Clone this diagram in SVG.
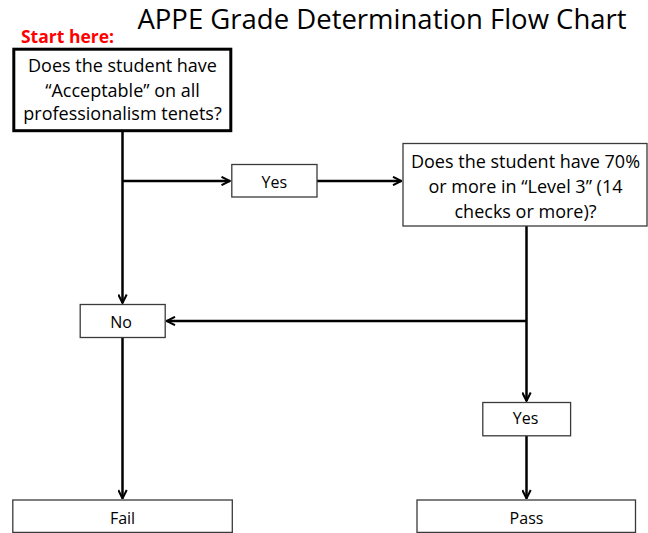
<svg xmlns="http://www.w3.org/2000/svg" width="648" height="533" viewBox="0 0 648 533">
<style>
text{font-family:"Open Sans","Liberation Sans",sans-serif;fill:#000;text-anchor:middle}
.box{fill:#fff;stroke:#3a3a3a;stroke-width:1.3}
.thick{fill:#fff;stroke:#000;stroke-width:3}
.q{font-size:18px}
.lbl{font-size:16px}
.conn{fill:none;stroke:#000;stroke-width:2.5}
</style>
<defs>
<marker id="arr" markerUnits="userSpaceOnUse" viewBox="0 0 10 10" refX="9.5" refY="5" markerWidth="10" markerHeight="10" orient="auto">
<path d="M1,0.8 L9.5,5 L1,9.2" fill="none" stroke="#000" stroke-width="2"/>
</marker>
</defs>
<rect width="648" height="533" fill="#fff"/>
<g id="title"><text x="382" y="29" style="font-size:27.5px">APPE Grade Determination Flow Chart</text></g>
<g id="start-label"><text x="67.5" y="42.5" style="font-size:17.5px;font-weight:bold;fill:#f00">Start here:</text></g>
<g id="connectors">
<path class="conn" d="M122.5,132 V303" marker-end="url(#arr)"/>
<path class="conn" d="M122.5,181 H230" marker-end="url(#arr)"/>
<path class="conn" d="M317,181 H401.5" marker-end="url(#arr)"/>
<path class="conn" d="M526.5,226 V401" marker-end="url(#arr)"/>
<path class="conn" d="M526.5,321 H166.5" marker-end="url(#arr)"/>
<path class="conn" d="M122.5,338 V498.5" marker-end="url(#arr)"/>
<path class="conn" d="M526.5,436 V498.5" marker-end="url(#arr)"/>
</g>
<g id="q1">
<rect class="thick" x="13.8" y="49.2" width="217" height="81.5"/>
<text class="q" x="122.5" y="72.3">Does the student have</text>
<text class="q" x="122.5" y="96.5">“Acceptable” on all</text>
<text class="q" x="122.5" y="120.3">professionalism tenets?</text>
</g>
<g id="yes1">
<rect class="box" x="231.8" y="164.5" width="85.2" height="32.5"/>
<text class="lbl" x="274.3" y="188.3">Yes</text>
</g>
<g id="q2">
<rect class="box" x="403" y="143.5" width="244" height="82.5"/>
<text class="q" x="525.5" y="168.3">Does the student have 70%</text>
<text class="q" x="525.5" y="193.3">or more in “Level 3” (14</text>
<text class="q" x="525.5" y="218.3">checks or more)?</text>
</g>
<g id="no">
<rect class="box" x="80.2" y="304.5" width="85" height="33"/>
<text class="lbl" x="121" y="327.5">No</text>
</g>
<g id="yes2">
<rect class="box" x="482.8" y="402.5" width="87.8" height="33.3"/>
<text class="lbl" x="525.5" y="424.3">Yes</text>
</g>
<g id="fail">
<rect class="box" x="12.8" y="500" width="219.5" height="32.4"/>
<text class="lbl" x="122.5" y="524">Fail</text>
</g>
<g id="pass">
<rect class="box" x="417" y="500" width="218.5" height="32.4"/>
<text class="lbl" x="526.5" y="524">Pass</text>
</g>
</svg>
